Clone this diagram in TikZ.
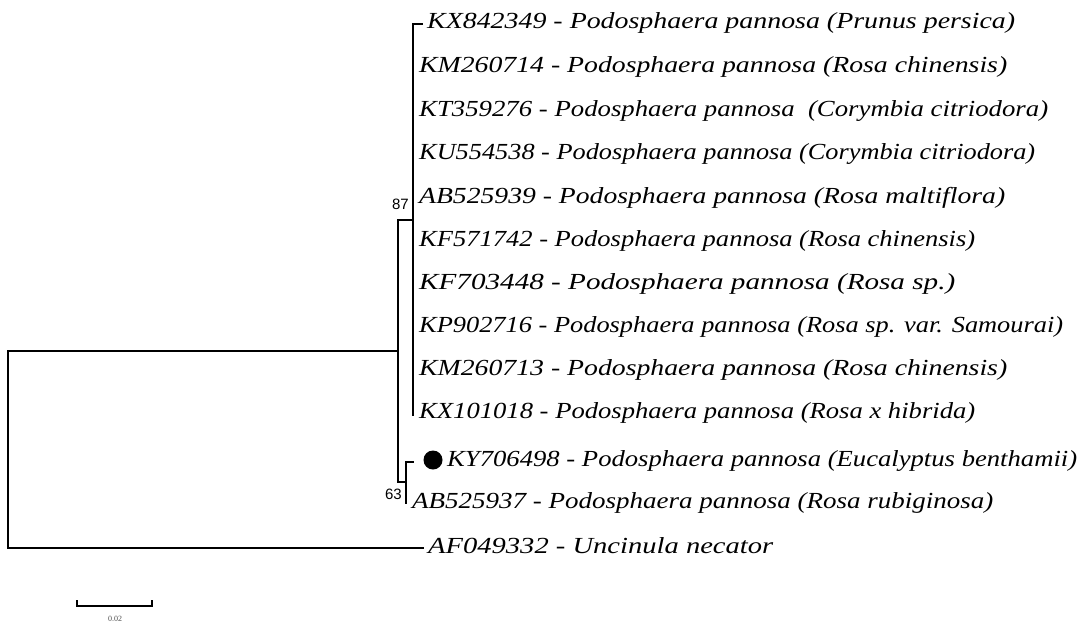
\documentclass[tikz,border=0pt]{standalone}
\usepackage{fontspec}
\usepackage{graphicx}
\setmainfont{Liberation Serif}
\newfontfamily\bootfont{Liberation Sans}
\newcommand{\fitlab}[2]{\resizebox{#1pt}{\height}{#2}}
\begin{document}
\begin{tikzpicture}[x=1pt,y=-1pt,
  br/.style={line width=1.4pt, line cap=rect},
  tip/.style={anchor=west, inner sep=0pt, font=\fontsize{23}{23}\selectfont\itshape},
  boot/.style={inner sep=0pt, font=\fontsize{15}{15}\selectfont\bootfont},
  dotmark/.style={circle, fill=black, inner sep=0pt, minimum size=19pt}]
\useasboundingbox (0,0) rectangle (1079,630);
% internal nodes
\coordinate (root) at (8,450);
\coordinate (rootT) at (8,351);
\coordinate (rootB) at (8,548);
\coordinate (nB) at (398,351);
\coordinate (nBT) at (398,220);
\coordinate (nBB) at (398,482);
\coordinate (nA) at (413,220);
\coordinate (nAT) at (413,24);
\coordinate (nAB) at (413,415);
\coordinate (nC) at (406,482);
\coordinate (nCT) at (406,462);
\coordinate (nCB) at (406,503);
\coordinate (kyend) at (413,462);
% tips
\node[tip] (t1) at (427,23) {\fitlab{588}{KX842349 - Podosphaera pannosa (Prunus persica)}};
\node[tip] (t2) at (419,67) {\fitlab{588}{KM260714 - Podosphaera pannosa (Rosa chinensis)}};
\node[tip] (t3) at (419,111) {\fitlab{629}{KT359276 - Podosphaera pannosa \ (Corymbia citriodora)}};
\node[tip] (t4) at (419,154) {\fitlab{616}{KU554538 - Podosphaera pannosa (Corymbia citriodora)}};
\node[tip] (t5) at (419,198) {\fitlab{586}{AB525939 - Podosphaera pannosa (Rosa maltiflora)}};
\node[tip] (t6) at (419,241) {\fitlab{556}{KF571742 - Podosphaera pannosa (Rosa chinensis)}};
\node[tip] (t7) at (419,284) {\fitlab{536}{KF703448 - Podosphaera pannosa (Rosa sp.)}};
\node[tip] (t8) at (419,327) {\fitlab{644}{KP902716 - Podosphaera pannosa (Rosa sp. var. Samourai)}};
\node[tip] (t9) at (419,370) {\fitlab{588}{KM260713 - Podosphaera pannosa (Rosa chinensis)}};
\node[tip] (t10) at (419,413) {\fitlab{556}{KX101018 - Podosphaera pannosa (Rosa x hibrida)}};
\node[dotmark] (dot) at (433,460) {};
\node[tip] (t11) at (447,461) {\fitlab{630}{KY706498 - Podosphaera pannosa (Eucalyptus benthamii)}};
\node[tip] (t12) at (412,503) {\fitlab{581}{AB525937 - Podosphaera pannosa (Rosa rubiginosa)}};
\node[tip] (t13) at (428,546) {\fitlab{345}{AF049332 - Uncinula necator}};
% bootstrap
\node[boot, anchor=east] (b87) at (409,204) {87};
\node[boot, anchor=east] (b63) at (402,494) {63};
% branches
\draw[br] (rootT) -- (rootB);
\draw[br] (rootT) -- (nB);
\draw[br] (rootB) -- ([xshift=-5pt]rootB -| t13.west);
\draw[br] (nBT) -- (nBB);
\draw[br] (nBT) -- (nA);
\draw[br] (nBB) -- (nC);
\draw[br] (nAT) -- (nAB);
\draw[br] (nAT) -- ([xshift=-5pt]nAT -| t1.west);
\draw[br] (nCT) -- (nCB);
\draw[br] (nCT) -- (kyend);
% scale bar
\coordinate (sL) at (77,606);
\coordinate (sR) at (152,606);
\draw[line width=1.4pt] ([yshift=6pt]sL) -- (sL) -- (sR) -- ([yshift=6pt]sR);
\node[inner sep=0pt, font=\fontsize{8}{8}\selectfont, text=black!70] (slab) at (115,619) {0.02};
\end{tikzpicture}
\end{document}
